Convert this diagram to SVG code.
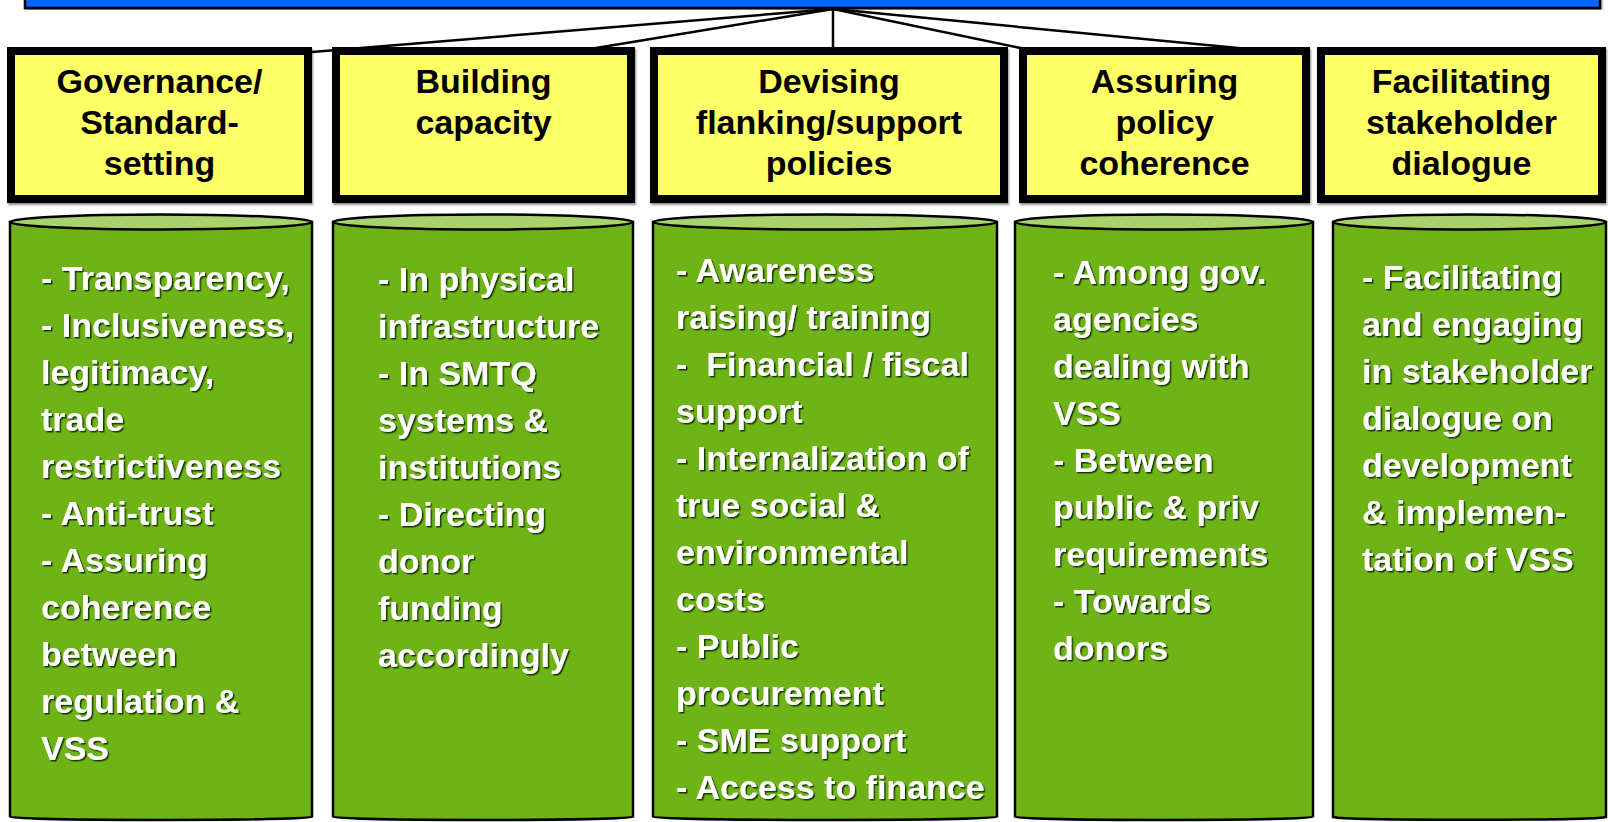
<svg xmlns="http://www.w3.org/2000/svg" width="1608" height="822" viewBox="0 0 1608 822">
<defs>
<filter id="tsh" x="-5%" y="-5%" width="110%" height="110%">
<feDropShadow dx="1.5" dy="1.5" stdDeviation="0.4" flood-color="#0b2a00" flood-opacity="0.9"/>
</filter>
<filter id="bsh" x="-5%" y="-5%" width="110%" height="115%">
<feDropShadow dx="1" dy="2" stdDeviation="1.2" flood-color="#000" flood-opacity="0.45"/>
</filter>
</defs>
<style>
.box{fill:#ffff66;stroke:#000;stroke-width:8;filter:url(#bsh)}
.ht{font-family:"Liberation Sans",Arial,sans-serif;font-weight:bold;font-size:34px;fill:#000;text-anchor:middle}
.cyl{fill:#6fb416;stroke:#000;stroke-width:2.5}
.cap{fill:#a6d36c;stroke:#000;stroke-width:2.5}
.ct{font-family:"Liberation Sans",Arial,sans-serif;font-weight:bold;font-size:34px;fill:#fff;filter:url(#tsh)}
.con{stroke:#000;stroke-width:2.5;fill:none}
</style>

<g id="topbar">
<rect x="25" y="-10" width="1575" height="18" fill="#0066ff" stroke="#000" stroke-width="2.5" filter="url(#bsh)"/>
</g>

<g id="connectors">
<line class="con" x1="833" y1="9" x2="312" y2="52"/>
<line class="con" x1="833" y1="9" x2="590" y2="49"/>
<line class="con" x1="833" y1="9" x2="833" y2="48"/>
<line class="con" x1="833" y1="9" x2="1025" y2="49"/>
<line class="con" x1="833" y1="9" x2="1310" y2="55"/>
</g>

<g id="h1">
<rect class="box" x="11" y="51" width="297" height="148"/>
<text class="ht" x="159.5" y="93">Governance/<tspan x="159.5" dy="41">Standard-</tspan><tspan x="159.5" dy="41">setting</tspan></text>
</g>
<g id="h2">
<rect class="box" x="336" y="51" width="295" height="148"/>
<text class="ht" x="483.5" y="93">Building<tspan x="483.5" dy="41">capacity</tspan></text>
</g>
<g id="h3">
<rect class="box" x="654" y="51" width="350" height="148"/>
<text class="ht" x="829" y="93">Devising<tspan x="829" dy="41">flanking/support</tspan><tspan x="829" dy="41">policies</tspan></text>
</g>
<g id="h4">
<rect class="box" x="1023" y="51" width="283" height="148"/>
<text class="ht" x="1164.5" y="93">Assuring<tspan x="1164.5" dy="41">policy</tspan><tspan x="1164.5" dy="41">coherence</tspan></text>
</g>
<g id="h5">
<rect class="box" x="1321" y="51" width="281" height="148"/>
<text class="ht" x="1461.5" y="93">Facilitating<tspan x="1461.5" dy="41">stakeholder</tspan><tspan x="1461.5" dy="41">dialogue</tspan></text>
</g>

<g id="c1">
<path class="cyl" d="M10,222 L10,817 A151,3 0 0 0 312,817 L312,222 Z"/>
<ellipse class="cap" cx="161" cy="222" rx="151" ry="7.5"/>
<text class="ct" x="41" y="290">- Transparency,<tspan x="41" dy="47">- Inclusiveness,</tspan><tspan x="41" dy="47">legitimacy,</tspan><tspan x="41" dy="47">trade</tspan><tspan x="41" dy="47">restrictiveness</tspan><tspan x="41" dy="47">- Anti-trust</tspan><tspan x="41" dy="47">- Assuring</tspan><tspan x="41" dy="47">coherence</tspan><tspan x="41" dy="47">between</tspan><tspan x="41" dy="47">regulation &amp;</tspan><tspan x="41" dy="47">VSS</tspan></text>
</g>
<g id="c2">
<path class="cyl" d="M333,222 L333,817 A150,3 0 0 0 633,817 L633,222 Z"/>
<ellipse class="cap" cx="483" cy="222" rx="150" ry="7.5"/>
<text class="ct" x="378" y="291">- In physical<tspan x="378" dy="47">infrastructure</tspan><tspan x="378" dy="47">- In SMTQ</tspan><tspan x="378" dy="47">systems &amp;</tspan><tspan x="378" dy="47">institutions</tspan><tspan x="378" dy="47">- Directing</tspan><tspan x="378" dy="47">donor</tspan><tspan x="378" dy="47">funding</tspan><tspan x="378" dy="47">accordingly</tspan></text>
</g>
<g id="c3">
<path class="cyl" d="M653,222 L653,817 A172,3 0 0 0 997,817 L997,222 Z"/>
<ellipse class="cap" cx="825" cy="222" rx="172" ry="7.5"/>
<text class="ct" x="676" y="282" xml:space="preserve">- Awareness<tspan x="676" dy="47">raising/ training</tspan><tspan x="676" dy="47">-  Financial / fiscal</tspan><tspan x="676" dy="47">support</tspan><tspan x="676" dy="47">- Internalization of</tspan><tspan x="676" dy="47">true social &amp;</tspan><tspan x="676" dy="47">environmental</tspan><tspan x="676" dy="47">costs</tspan><tspan x="676" dy="47">- Public</tspan><tspan x="676" dy="47">procurement</tspan><tspan x="676" dy="47">- SME support</tspan><tspan x="676" dy="47">- Access to finance</tspan></text>
</g>
<g id="c4">
<path class="cyl" d="M1015,222 L1015,817 A149,3 0 0 0 1313,817 L1313,222 Z"/>
<ellipse class="cap" cx="1164" cy="222" rx="149" ry="7.5"/>
<text class="ct" x="1053" y="284">- Among gov.<tspan x="1053" dy="47">agencies</tspan><tspan x="1053" dy="47">dealing with</tspan><tspan x="1053" dy="47">VSS</tspan><tspan x="1053" dy="47">- Between</tspan><tspan x="1053" dy="47">public &amp; priv</tspan><tspan x="1053" dy="47">requirements</tspan><tspan x="1053" dy="47">- Towards</tspan><tspan x="1053" dy="47">donors</tspan></text>
</g>
<g id="c5">
<path class="cyl" d="M1333,222 L1333,817 A137,3 0 0 0 1606,817 L1606,222 Z"/>
<ellipse class="cap" cx="1469.5" cy="222" rx="136.5" ry="7.5"/>
<text class="ct" x="1362" y="289">- Facilitating<tspan x="1362" dy="47">and engaging</tspan><tspan x="1362" dy="47">in stakeholder</tspan><tspan x="1362" dy="47">dialogue on</tspan><tspan x="1362" dy="47">development</tspan><tspan x="1362" dy="47">&amp; implemen-</tspan><tspan x="1362" dy="47">tation of VSS</tspan></text>
</g>
</svg>
